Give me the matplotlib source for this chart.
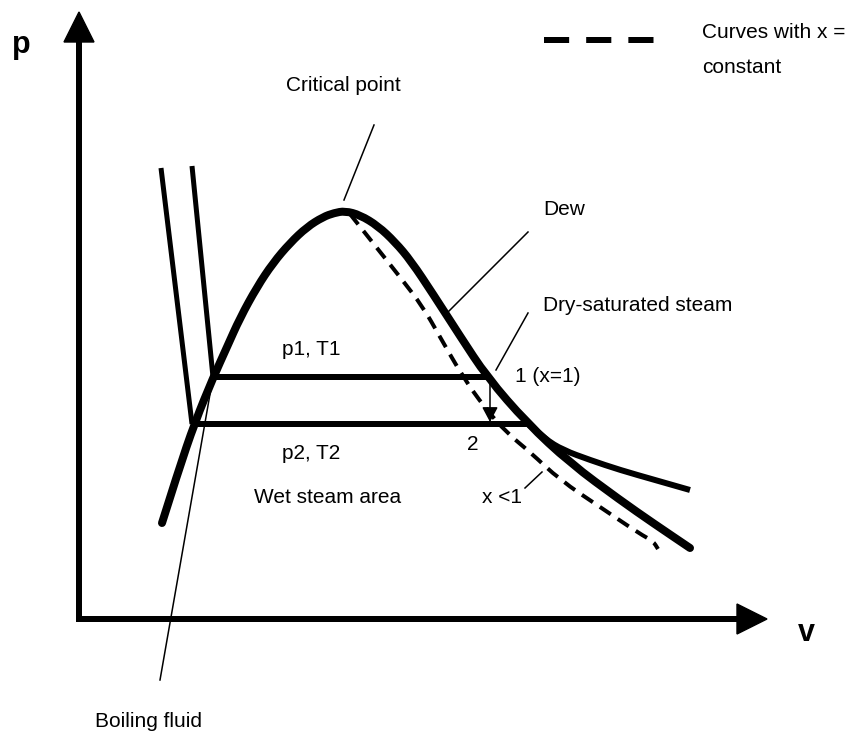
import numpy as np
import matplotlib
matplotlib.use("Agg")
import matplotlib.pyplot as plt
from matplotlib.path import Path
from matplotlib.patches import PathPatch, Polygon, Rectangle

# p-v diagram, everything in picture pixels (y grows downwards)

# saturation dome: boiling line -> critical point -> dew line
dome_x = [162, 178, 195, 213, 227, 240, 257, 273, 290, 307, 323, 334, 345,
          360, 378, 395, 411, 433, 460, 487, 527, 570, 620, 653, 690]
dome_y = [523, 472, 422, 378, 347, 318, 287, 263, 243, 227, 217, 213, 211,
          215, 226, 242, 261, 294, 336, 377, 423, 463, 500, 523, 548]

# curve with x = constant (x < 1)
xc_x = [350, 373, 400, 423, 440, 463, 485, 507, 530, 560, 600, 640, 653, 658]
xc_y = [214, 243, 277, 307, 337, 377, 408, 433, 452, 480, 507, 534, 541, 549]

# isotherm in the superheated region
iso_x = [527, 545, 563, 590, 620, 655, 690]
iso_y = [423, 439, 450, 460, 470, 480, 490]

# steep liquid lines (p2 and p1)
liq2_x = [161, 192]
liq2_y = [168, 424]
liq1_x = [192, 213]
liq1_y = [166, 377]

# horizontal isobars in the wet steam area
p1_x = [213, 487]
p1_y = 377
p2_x = [192, 527]
p2_y = 424


def smooth(xs, ys):
    pts = list(zip(xs, ys))
    verts = [pts[0]]
    codes = [Path.MOVETO]
    for i in range(1, len(pts) - 1):
        mid = ((pts[i][0] + pts[i + 1][0]) / 2, (pts[i][1] + pts[i + 1][1]) / 2)
        verts += [pts[i], mid]
        codes += [Path.CURVE3, Path.CURVE3]
    verts.append(pts[-1])
    codes.append(Path.LINETO)
    return Path(verts, codes)


fig = plt.figure(figsize=(8.5, 7.31), dpi=100)
ax = fig.add_axes([0, 0, 1, 1])
ax.set_xlim(0, 850)
ax.set_ylim(731, 0)
ax.axis("off")

px = 0.72  # points per pixel at 100 dpi

# axes with arrows
ax.plot([79, 79, 737], [42, 619, 619], color="black", lw=6 * px,
        solid_joinstyle="miter", solid_capstyle="butt")
ax.add_patch(Polygon([(64, 42), (94, 42), (79, 12)], closed=True, color="black"))
ax.add_patch(Polygon([(737, 604), (737, 634), (767, 619)], closed=True, color="black"))

# curves
ax.add_patch(PathPatch(smooth(dome_x, dome_y), fill=False, lw=8 * px,
                       capstyle="round", joinstyle="round", color="black"))
ax.add_patch(PathPatch(smooth(iso_x, iso_y), fill=False, lw=6 * px,
                       capstyle="butt", color="black"))
dash = PathPatch(smooth(xc_x, xc_y), fill=False, lw=4 * px, color="black",
                 capstyle="butt")
dash.set_linestyle((0, (3.3, 2.1)))
ax.add_patch(dash)

ax.plot(liq2_x, liq2_y, color="black", lw=5 * px, solid_capstyle="butt")
ax.plot(liq1_x, liq1_y, color="black", lw=5 * px, solid_capstyle="butt")
ax.plot(p1_x, [p1_y, p1_y], color="black", lw=6 * px, solid_capstyle="butt")
ax.plot(p2_x, [p2_y, p2_y], color="black", lw=6 * px, solid_capstyle="butt")

# throttling arrow 1 -> 2
ax.annotate("", xy=(490, 422), xytext=(490, 380),
            arrowprops=dict(arrowstyle="-|>,head_width=0.48,head_length=0.9",
                            color="black", lw=1.1, shrinkA=0, shrinkB=0))

# leader lines
leaders = [((344, 200), (374, 125)),
           ((448, 312), (528, 232)),
           ((496, 370), (528, 313)),
           ((525, 488), (542, 472)),
           ((213, 377), (160, 680))]
for a, b in leaders:
    ax.plot([a[0], b[0]], [a[1], b[1]], color="black", lw=1.1)

# legend
leg = ax.plot([544, 654], [40, 40], color="black", lw=6 * px,
              solid_capstyle="butt")[0]
leg.set_linestyle((0, (4.19, 2.84)))

font = dict(family="Liberation Sans", size=15, color="black", va="baseline", ha="left")
ax.text(702, 38.5, "Curves with x =", **font)
clip = Rectangle((690, 40), 160, 31.5, transform=ax.transData)
t = ax.text(702, 73, "constant", **font)
t.set_clip_path(clip)

ax.text(286, 91, "Critical point", **font)
ax.text(543, 215, "Dew", **font)
ax.text(543, 311, "Dry-saturated steam", **font)
ax.text(282, 355, "p1, T1", **font)
ax.text(282, 459, "p2, T2", **font)
ax.text(254, 503, "Wet steam area", **font)
ax.text(515, 382, "1 (x=1)", **font)
ax.text(467, 450, "2", **font)
ax.text(482, 503, "x <1", **font)
ax.text(95, 727, "Boiling fluid", **font)

ax.text(12, 53, "p", family="Liberation Sans", size=22, weight="bold", va="baseline")
ax.text(798, 641, "v", family="Liberation Sans", size=22, weight="bold", va="baseline")

fig.savefig("out.png", dpi=100)
